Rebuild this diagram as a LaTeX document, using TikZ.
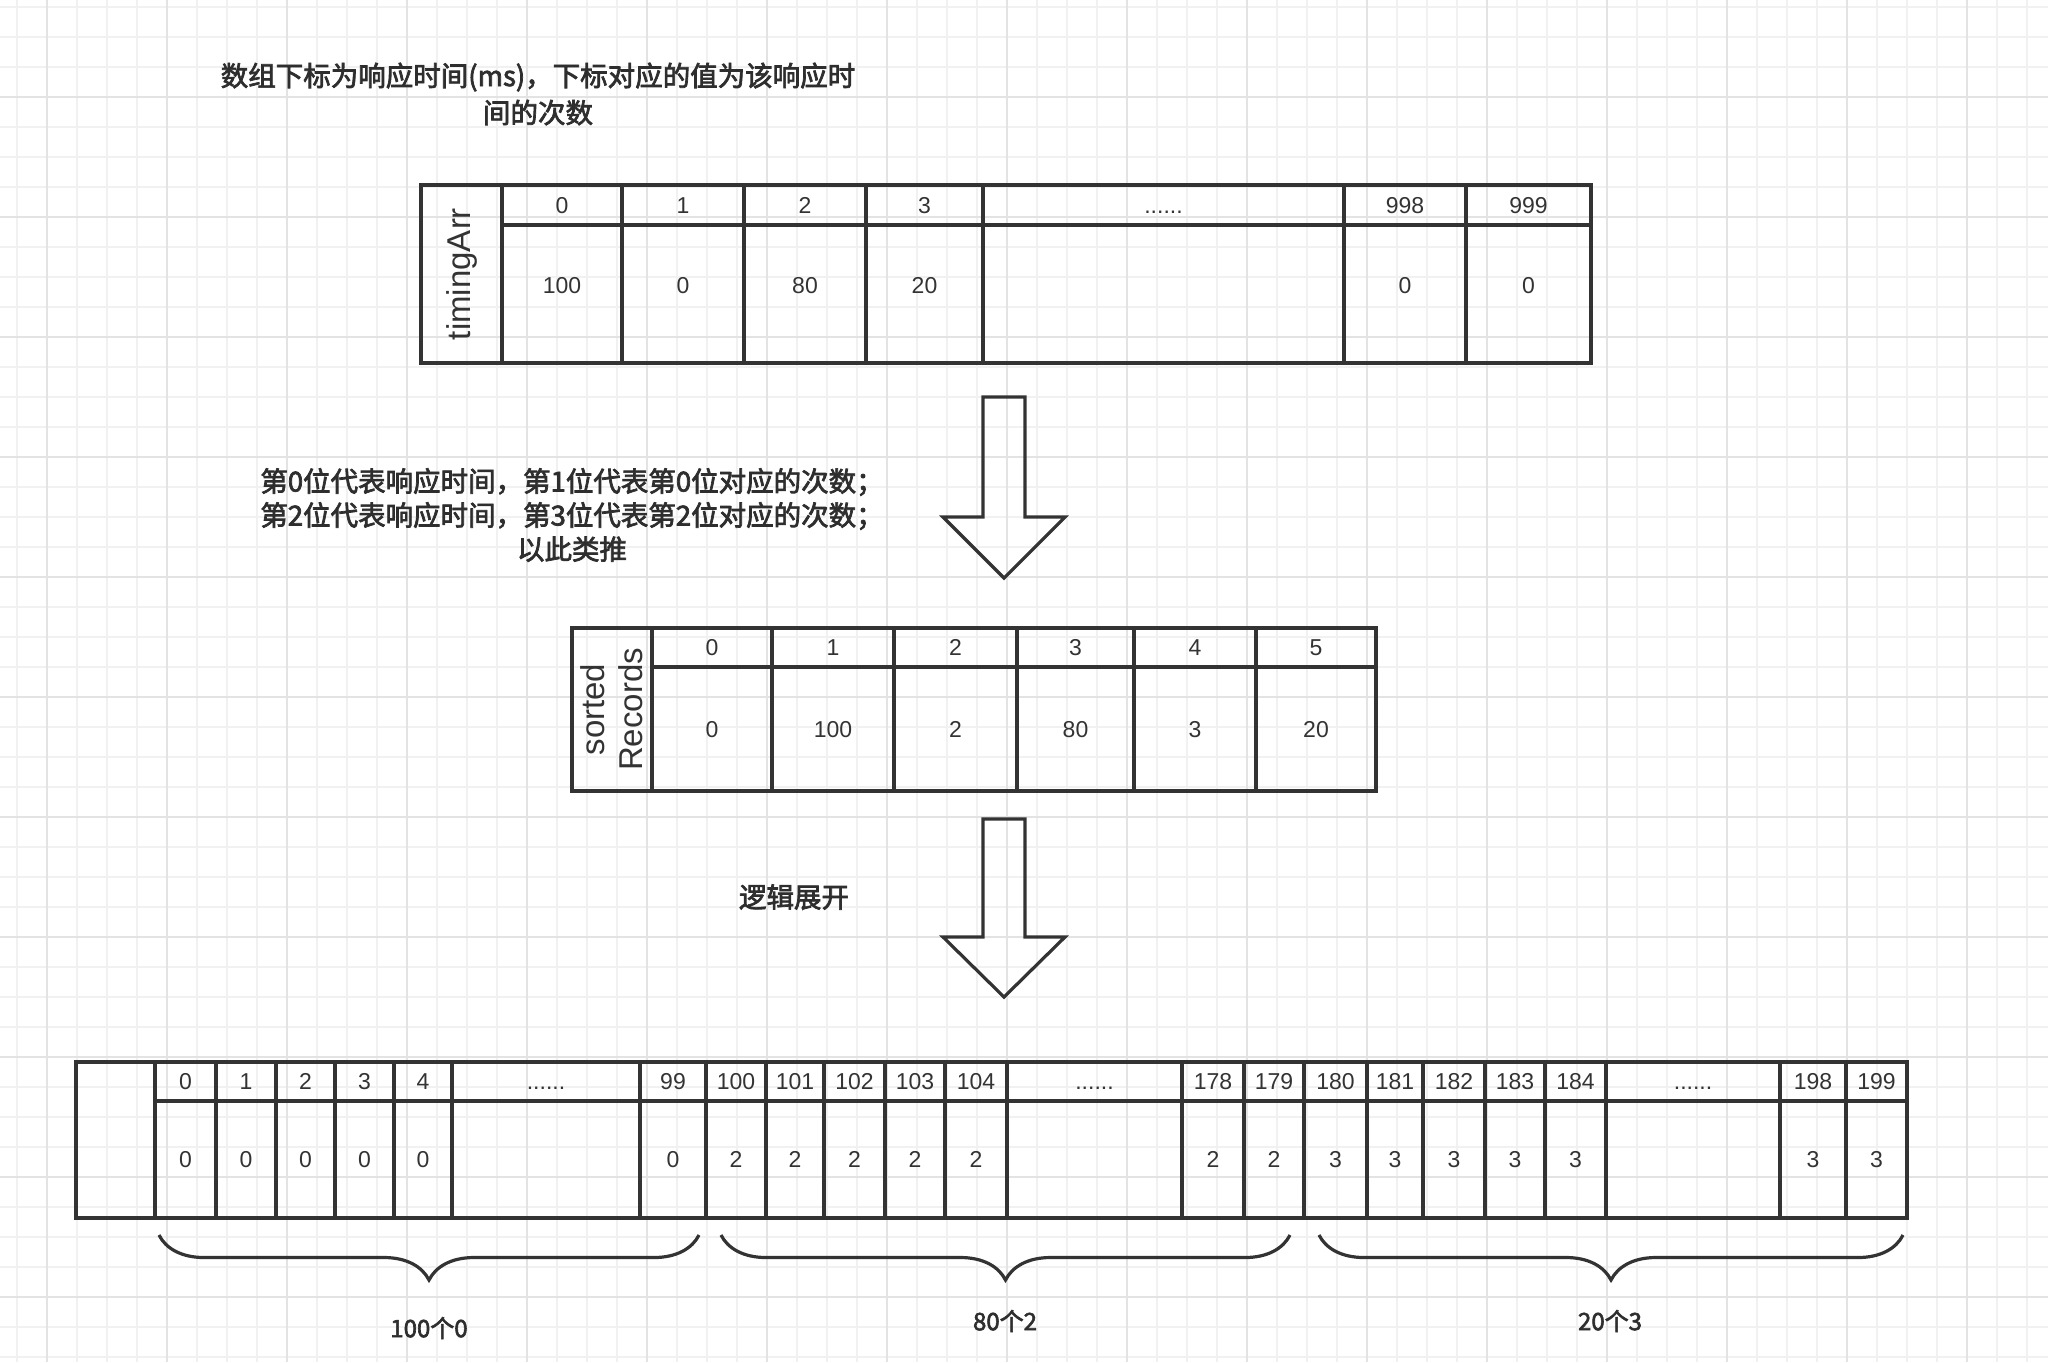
\documentclass[tikz,border=0pt]{standalone}
\usepackage{fontspec}
\setmainfont{Liberation Sans}
\newfontfamily\cjk{Noto Sans CJK SC}[FakeBold=2.6]
\usetikzlibrary{positioning,decorations.pathreplacing}
\definecolor{inkc}{HTML}{333333}
\definecolor{gridminor}{HTML}{F1F1F1}
\definecolor{gridmajor}{HTML}{E3E3E3}
\newcommand{\gapdots}{......}

\begin{document}
\begin{tikzpicture}[
    x=0.5pt, y=-0.5pt,
    cell/.style={draw=inkc, line width=2pt, inner sep=0pt, text=inkc, text height=8.3pt, text depth=0pt, font=\fontsize{11.5}{13}\selectfont},
    upval/.style={text depth=9pt},
    namecell/.style={cell, rotate=90, align=center, text height=, text depth=, font=\fontsize{16.5}{19}\selectfont},
    note/.style={align=center, text=inkc!90!black, font=\cjk\fontsize{13.75}{18.5}\selectfont},
    count/.style={text=inkc!90!black, font=\cjk\fontsize{12}{14}\selectfont},
    bigarrow/.style={draw=inkc, line width=1.6pt, line join=miter},
    brace/.style={draw=inkc, line width=1.6pt, decorate, decoration={brace, mirror, amplitude=22.5pt}}
]
    % background grid
    \useasboundingbox (0,0) rectangle (2048,1362);
    \foreach \gx in {17,47,...,2027} \draw[gridminor, line width=0.6pt] (\gx,0) -- (\gx,1362);
    \foreach \gy in {7,37,...,1357} \draw[gridminor, line width=0.6pt] (0,\gy) -- (2048,\gy);
    \foreach \gx in {47,167,...,1967} \draw[gridmajor, line width=0.7pt] (\gx,0) -- (\gx,1362);
    \foreach \gy in {97,217,...,1297} \draw[gridmajor, line width=0.7pt] (0,\gy) -- (2048,\gy);

    \node[note] (title) at (538,94) {数组下标为响应时间(ms)，下标对应的值为该响应时\\间的次数};

    % timingArr
    \node[namecell, minimum width=89pt, minimum height=40.5pt] (tm-name) at (461.5,274) {timingArr};
    \foreach \xa/\xb/\hd/\vl [count=\i] in {502/622/0/100, 622/744/1/0, 744/866/2/80, 866/983/3/20,
        983/1344/\gapdots/{}, 1344/1466/998/0, 1466/1591/999/0} {
        \node[cell, minimum width={(\xb-\xa)*0.5pt}, minimum height=20pt] (tm-h\i) at ({(\xa+\xb)/2},205) {\hd};
        \node[cell, upval, minimum width={(\xb-\xa)*0.5pt}, minimum height=69pt] (tm-v\i) at ({(\xa+\xb)/2},294) {\vl};
    }

    \draw[bigarrow] (983,397) -- (1025,397) -- (1025,517) -- (1065,517) -- (1004,578) -- (943,517) -- (983,517) -- cycle;

    \node[note, font=\cjk\fontsize{13.75}{17}\selectfont] (rule) at (572,515) {第0位代表响应时间，第1位代表第0位对应的次数；\\第2位代表响应时间，第3位代表第2位对应的次数；\\以此类推};

    % sortedRecords
    \node[namecell, minimum width=81.5pt, minimum height=40pt] (sr-name) at (612,709.5) {sorted\\Records};
    \foreach \xa/\xb/\hd/\vl [count=\i] in {652/772/0/0, 772/894/1/100, 894/1017/2/2, 1017/1134/3/80,
        1134/1256/4/3, 1256/1376/5/20} {
        \node[cell, minimum width={(\xb-\xa)*0.5pt}, minimum height=19.5pt] (sr-h\i) at ({(\xa+\xb)/2},647.5) {\hd};
        \node[cell, minimum width={(\xb-\xa)*0.5pt}, minimum height=62pt] (sr-v\i) at ({(\xa+\xb)/2},729) {\vl};
    }

    \draw[bigarrow] (983,819) -- (1025,819) -- (1025,937) -- (1065,937) -- (1004,997) -- (943,937) -- (983,937) -- cycle;

    \node[note] (unfold) at (794,897) {逻辑展开};

    % expanded array
    \node[cell, minimum width=39.5pt, minimum height=78pt] (ex-name) at (115.5,1140) {};
    \foreach \xa/\xb/\hd/\vl [count=\i] in {155/216/0/0, 216/276/1/0, 276/335/2/0, 335/394/3/0, 394/452/4/0,
        452/640/\gapdots/{}, 640/706/99/0, 706/766/100/2, 766/824/101/2, 824/885/102/2, 885/945/103/2,
        945/1007/104/2, 1007/1182/\gapdots/{}, 1182/1244/178/2, 1244/1304/179/2, 1304/1367/180/3,
        1367/1423/181/3, 1423/1485/182/3, 1485/1545/183/3, 1545/1606/184/3, 1606/1780/\gapdots/{},
        1780/1846/198/3, 1846/1907/199/3} {
        \node[cell, minimum width={(\xb-\xa)*0.5pt}, minimum height=19.5pt] (ex-h\i) at ({(\xa+\xb)/2},1081.5) {\hd};
        \node[cell, minimum width={(\xb-\xa)*0.5pt}, minimum height=58.5pt] (ex-v\i) at ({(\xa+\xb)/2},1159.5) {\vl};
    }

    % braces
    \coordinate (b1l) at (159,1235);
    \coordinate (b1r) at (699,1235);
    \coordinate (b2l) at (721,1235);
    \coordinate (b2r) at (1290,1235);
    \coordinate (b3l) at (1319,1235);
    \coordinate (b3r) at (1903,1235);
    \draw[brace] (b1l) -- (b1r);
    \draw[brace] (b2l) -- (b2r);
    \draw[brace] (b3l) -- (b3r);

    \node[count] (zeros) at (429,1328) {100个0};
    \node[count] (twos) at (1005,1321) {80个2};
    \node[count] (threes) at (1610,1321) {20个3};
\end{tikzpicture}
\end{document}
